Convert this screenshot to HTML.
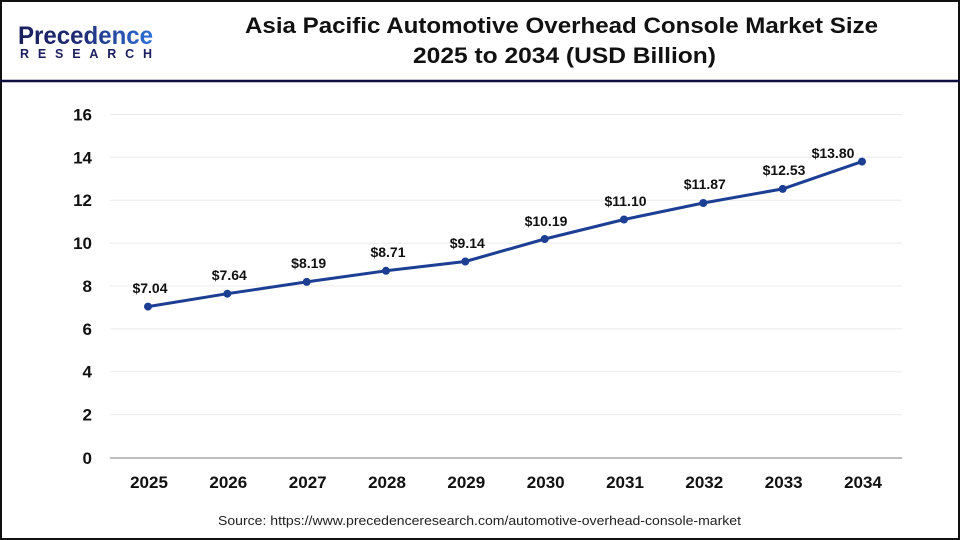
<!DOCTYPE html>
<html>
<head>
<meta charset="utf-8">
<style>
html,body{margin:0;padding:0;background:#fff;}
svg{display:block;}
text{font-family:"Liberation Sans",sans-serif;}
</style>
</head>
<body>
<svg width="960" height="540" viewBox="0 0 960 540" xmlns="http://www.w3.org/2000/svg">
<defs>
<linearGradient id="lg" x1="0" y1="0" x2="1" y2="0">
<stop offset="0" stop-color="#1b1f5e"/>
<stop offset="0.45" stop-color="#1e2a72"/>
<stop offset="1" stop-color="#2d6fd8"/>
</linearGradient>
</defs>
<rect x="0" y="0" width="960" height="540" fill="#fff"/>
<rect x="1" y="1" width="958" height="538" fill="none" stroke="#111" stroke-width="2"/>
<line x1="0" y1="81" x2="960" y2="81" stroke="#0f0f3f" stroke-width="2.5"/>

<!-- logo -->
<text x="18" y="44" font-size="25" font-weight="bold" fill="url(#lg)" textLength="135" lengthAdjust="spacingAndGlyphs">Precedence</text>
<text x="20" y="58" font-size="12.5" font-weight="bold" fill="#1b1f5e" textLength="132" lengthAdjust="spacing">RESEARCH</text>

<!-- title -->
<text x="561.5" y="33" font-size="22" font-weight="bold" fill="#111" text-anchor="middle" textLength="633" lengthAdjust="spacingAndGlyphs">Asia Pacific Automotive Overhead Console Market Size</text>
<text x="564.5" y="63" font-size="22" font-weight="bold" fill="#111" text-anchor="middle" textLength="303" lengthAdjust="spacingAndGlyphs">2025 to 2034 (USD Billion)</text>

<!-- gridlines -->
<g stroke="#ebebeb" stroke-width="1">
<line x1="110" y1="114.5" x2="902" y2="114.5"/>
<line x1="110" y1="157.3" x2="902" y2="157.3"/>
<line x1="110" y1="200.2" x2="902" y2="200.2"/>
<line x1="110" y1="243.1" x2="902" y2="243.1"/>
<line x1="110" y1="286.0" x2="902" y2="286.0"/>
<line x1="110" y1="328.9" x2="902" y2="328.9"/>
<line x1="110" y1="371.7" x2="902" y2="371.7"/>
<line x1="110" y1="414.6" x2="902" y2="414.6"/>
</g>
<line x1="110" y1="458" x2="902" y2="458" stroke="#bdbdbd" stroke-width="2"/>

<!-- y labels -->
<g font-size="17" font-weight="bold" fill="#111" text-anchor="end">
<text x="92" y="120.5">16</text>
<text x="92" y="163.3">14</text>
<text x="92" y="206.2">12</text>
<text x="92" y="249.1">10</text>
<text x="92" y="292">8</text>
<text x="92" y="334.9">6</text>
<text x="92" y="377.7">4</text>
<text x="92" y="420.6">2</text>
<text x="92" y="464">0</text>
</g>

<!-- x labels -->
<g font-size="17" font-weight="bold" fill="#111" text-anchor="middle">
<text x="149" y="488">2025</text>
<text x="228.3" y="488">2026</text>
<text x="307.7" y="488">2027</text>
<text x="387" y="488">2028</text>
<text x="466.3" y="488">2029</text>
<text x="545.7" y="488">2030</text>
<text x="625" y="488">2031</text>
<text x="704.3" y="488">2032</text>
<text x="783.7" y="488">2033</text>
<text x="863" y="488">2034</text>
</g>

<!-- series -->
<polyline fill="none" stroke="#1c3f94" stroke-width="3" stroke-linejoin="round"
points="148,306.6 227.3,293.7 306.7,281.9 386,270.8 465.3,261.5 544.7,239 624,219.5 703.3,203 782.7,188.9 862,161.6"/>
<g fill="#1c3f94">
<circle cx="148" cy="306.6" r="4"/>
<circle cx="227.3" cy="293.7" r="4"/>
<circle cx="306.7" cy="281.9" r="4"/>
<circle cx="386" cy="270.8" r="4"/>
<circle cx="465.3" cy="261.5" r="4"/>
<circle cx="544.7" cy="239" r="4"/>
<circle cx="624" cy="219.5" r="4"/>
<circle cx="703.3" cy="203" r="4"/>
<circle cx="782.7" cy="188.9" r="4"/>
<circle cx="862" cy="161.6" r="4"/>
</g>

<!-- data labels -->
<g font-size="14" font-weight="bold" fill="#111" text-anchor="middle">
<text x="150" y="293">$7.04</text>
<text x="229.3" y="280">$7.64</text>
<text x="308.7" y="268">$8.19</text>
<text x="388" y="257">$8.71</text>
<text x="467.3" y="248">$9.14</text>
<text x="546" y="226">$10.19</text>
<text x="625.5" y="206">$11.10</text>
<text x="704.8" y="189">$11.87</text>
<text x="784" y="175">$12.53</text>
<text x="833" y="158">$13.80</text>
</g>

<!-- source -->
<text x="479.5" y="525" font-size="13" fill="#222" text-anchor="middle" textLength="523" lengthAdjust="spacingAndGlyphs">Source: https://www.precedenceresearch.com/automotive-overhead-console-market</text>
</svg>
</body>
</html>
